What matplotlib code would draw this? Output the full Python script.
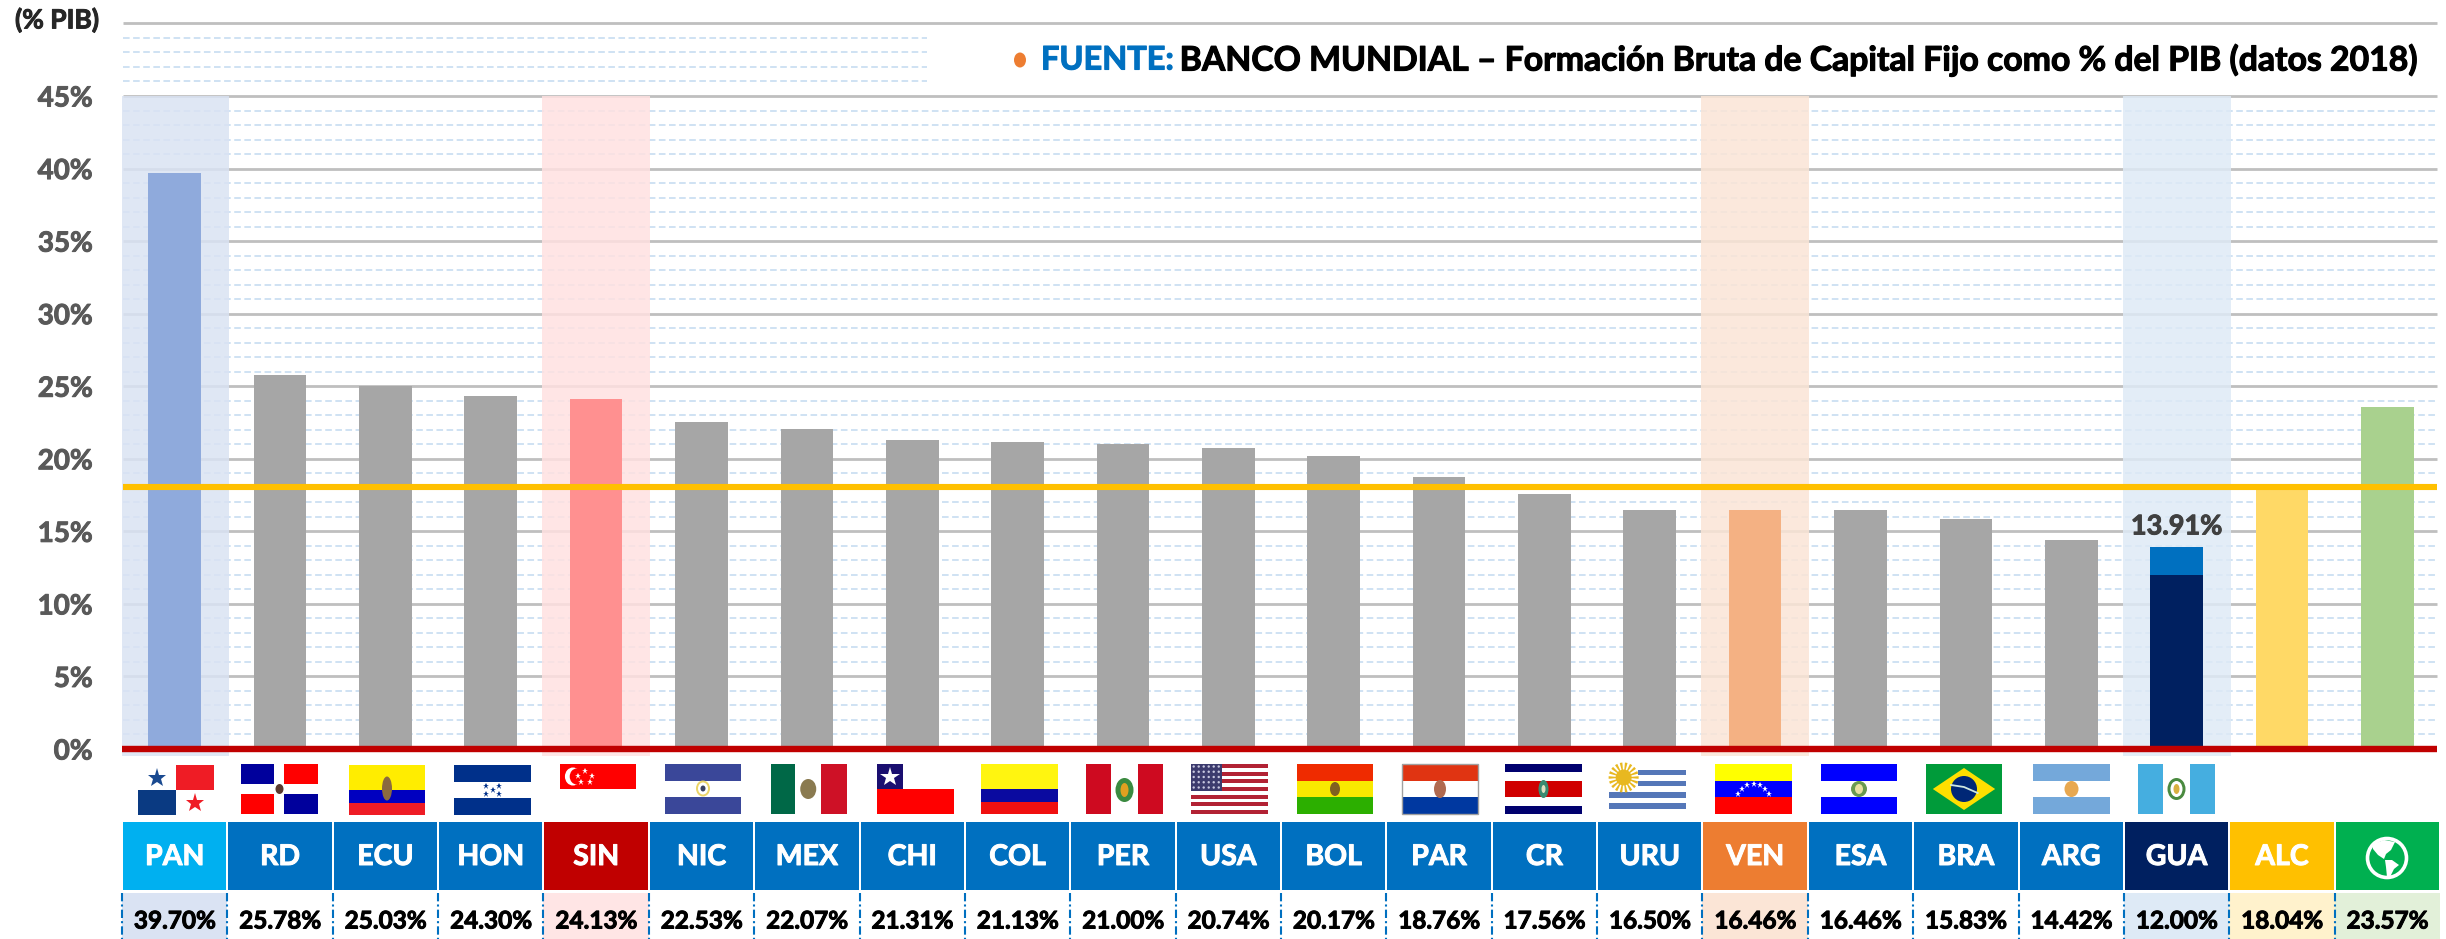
import matplotlib
matplotlib.use("Agg")
import matplotlib.pyplot as plt
import matplotlib.patheffects as pe
from matplotlib.patches import Rectangle, Circle, Polygon, Ellipse, Wedge

plt.rcParams['font.family'] = ['Lato', 'DejaVu Sans']

categorias = ["PAN","RD","ECU","HON","SIN","NIC","MEX","CHI","COL","PER","USA",
              "BOL","PAR","CR","URU","VEN","ESA","BRA","ARG","GUA","ALC",""]
valores = [39.70,25.78,25.03,24.30,24.13,22.53,22.07,21.31,21.13,21.00,20.74,
           20.17,18.76,17.56,16.50,16.46,16.46,15.83,14.42,12.00,18.04,23.57]
etiquetas_valor = ["39.70%","25.78%","25.03%","24.30%","24.13%","22.53%","22.07%",
                   "21.31%","21.13%","21.00%","20.74%","20.17%","18.76%","17.56%",
                   "16.50%","16.46%","16.46%","15.83%","14.42%","12.00%","18.04%","23.57%"]
gua_extra = 1.91
gua_etiqueta = "13.91%"
promedio_alc = 18.04
ticks_mayores = [0,5,10,15,20,25,30,35,40,45,50]
ticks_etiquetas = ["0%","5%","10%","15%","20%","25%","30%","35%","40%","45%",""]

GRIS = "#A6A6A6"
colores_barra = {0:"#8FAADC",4:"#FF9090",15:"#F4B183",19:"#002060",20:"#FFD966",21:"#A9D18E"}
colores_celda = {0:"#00B0F0",4:"#C00000",15:"#ED7D31",19:"#002060",20:"#FFC000",21:"#00B050"}
fondo_valor = {0:"#DAE3F3",4:"#FFE5E5",15:"#FBE5D6",19:"#DEEAF6",20:"#FFF2CC",21:"#E2F0D9"}
bandas = {0:"#DAE3F3",4:"#FFE1E1",15:"#FBE5D6",19:"#DEEAF6"}

W, H = 2446, 939
X0, X1 = 122.0, 2440.0
CELL = (X1 - X0) / 22
PX_PER = (749 - 96) / 45.0
Y_BOTTOM_PX, Y_TOP_PX = 760.0, 20.0

def grueso(c, w=0.7):
    return [pe.withStroke(linewidth=w, foreground=c)]

fig = plt.figure(figsize=(W/100, H/100), dpi=100, facecolor="white")
ax = fig.add_axes([X0/W, 1 - Y_BOTTOM_PX/H, (X1-X0)/W, (Y_BOTTOM_PX-Y_TOP_PX)/H])
ax.set_xlim(-0.5, 21.5)
ax.set_ylim((749-Y_BOTTOM_PX)/PX_PER, (749-Y_TOP_PX)/PX_PER)
for s in ax.spines.values():
    s.set_visible(False)
ax.set_xticks([])
ax.set_yticks(ticks_mayores)
ax.set_yticklabels(ticks_etiquetas, fontsize=20, fontweight="bold", color="#595959",
                   path_effects=grueso("#595959"))
ax.tick_params(axis="y", length=0, pad=21)
ax.patch.set_alpha(0)

xr = 21.47
xs = (927 - X0)/CELL - 0.5
menores = [m for m in range(1, 45) if m % 5]
ax.hlines(menores, -0.49, xr, color="#CFE2F3", lw=1.4, linestyles=(0,(3.4,1.8)), zorder=1)
ax.hlines([46,47,48,49], -0.49, xs, color="#CFE2F3", lw=1.4, linestyles=(0,(3.4,1.8)), zorder=1)
ax.hlines(ticks_mayores[1:], -0.49, xr, color="#BFBFBF", lw=2.0, zorder=1.2)

for i, c in bandas.items():
    ax.bar(i, 45 + 7/PX_PER, bottom=-7/PX_PER, width=1.025, color=c, alpha=0.85, zorder=1.5, lw=0)

x = list(range(len(valores)))
ax.bar(x, valores, width=0.5, color=[colores_barra.get(i, GRIS) for i in x], zorder=3, lw=0)
ax.bar([19], [gua_extra], bottom=[valores[19]], width=0.5, color="#0070C0", zorder=3, lw=0)
ax.hlines([promedio_alc], -0.49, xr, color="#FFC000", lw=4.4, zorder=4)
ax.hlines([0], -0.5, xr, color="#C00000", lw=4.6, zorder=5)
ax.text(19, valores[19]+gua_extra+0.6, gua_etiqueta, ha="center", va="bottom", fontsize=19.5,
        fontweight="bold", color="#404040", zorder=6, path_effects=grueso("#404040"))

# pixel overlay for table, flags and caption
ov = fig.add_axes([0,0,1,1])
ov.set_xlim(0,W); ov.set_ylim(H,0); ov.axis("off"); ov.patch.set_alpha(0)

def R(x0,y0,x1,y1,c,**k):
    ov.add_patch(Rectangle((x0,y0),x1-x0,y1-y0,facecolor=c,edgecolor="none",**k))

ov.text(15, 20, "(% PIB)", fontsize=19, fontweight="bold", color="#262626", va="center", ha="left",
        path_effects=grueso("#262626"))
ov.add_patch(Ellipse((1020,60),12,15,color="#ED7D31",lw=0))
ov.text(1041, 60, "FUENTE:", fontsize=23.4, fontweight="bold", color="#0070C0", va="center", ha="left",
        path_effects=grueso("#0070C0", 0.8))
ov.text(2419, 60, "BANCO MUNDIAL – Formación Bruta de Capital Fijo como % del PIB (datos 2018)",
        fontsize=24.3, fontweight="bold", color="black", va="center", ha="right",
        path_effects=grueso("black", 0.8))

for i in range(22):
    a = X0 + i*CELL; b = a + CELL
    R(a+1, 822, b-1, 890, colores_celda.get(i, "#0070C0"))
    if i in fondo_valor:
        R(a, 893, b, 939, fondo_valor[i])
    if categorias[i]:
        ov.text((a+b)/2, 857, categorias[i], fontsize=20.5, fontweight="bold", color="white", ha="center", va="center",
                path_effects=grueso("white"))
    ov.text((a+b)/2, 921, etiquetas_valor[i], fontsize=17.5, fontweight="bold", color="black", ha="center", va="center",
            path_effects=grueso("black"))
    ov.plot([a,a],[893,939], color="#0070C0", lw=1.5, ls=(0,(4,1.5,1,1.5)))

# globe icon
gx, gy = 2387, 858
ov.add_patch(Circle((gx,gy),19.5,facecolor="#00B050",edgecolor="white",lw=2.6))
ov.add_patch(Polygon([(gx-14,gy-14),(gx-3,gy-18),(gx+8,gy-16),(gx+4,gy-8),(gx-1,gy-4),(gx-3,gy+1),(gx-9,gy-3),(gx-14,gy-9)],color="white",lw=0))
ov.add_patch(Polygon([(gx-2,gy+2),(gx+5,gy+2),(gx+12,gy+7),(gx+7,gy+11),(gx+3,gy+19),(gx,gy+19),(gx-1,gy+9)],color="white",lw=0))

class F:
    def __init__(s,x0,x1,y0=764,y1=814):
        s.x0,s.x1,s.y0,s.y1=x0,x1,y0,y1
    def px(s,u,v):
        return s.x0+u*(s.x1-s.x0), s.y0+v*(s.y1-s.y0)
    def r(s,u0,v0,u1,v1,c):
        a=s.px(u0,v0); b=s.px(u1,v1); R(a[0],a[1],b[0],b[1],c)
    def bands(s,cols,fr=None):
        n=len(cols); fr=fr or [1/n]*n; v=0
        for c,f in zip(cols,fr):
            s.r(0,v,1,v+f,c); v+=f
    def star(s,u,v,c,ms=11):
        a=s.px(u,v); ov.plot([a[0]],[a[1]],marker="*",color=c,ms=ms,mew=0)
    def dot(s,u,v,c,rad=4,ry=None):
        a=s.px(u,v); ov.add_patch(Ellipse(a,2*rad,2*(ry or rad),color=c,lw=0))
    def frame(s,c):
        a=s.px(0,0); b=s.px(1,1)
        ov.add_patch(Rectangle(a,b[0]-a[0],b[1]-a[1],fill=False,edgecolor=c,lw=1))

f=F(138,214,765,815)
f.r(.5,0,1,.5,"#EF1C25"); f.r(0,.5,.5,1,"#0A3A82"); f.star(.25,.25,"#1A4A90",14); f.star(.75,.75,"#EF1C25",14)
f=F(241,318)
f.r(0,0,.43,.4,"#00009C"); f.r(.56,0,1,.4,"#FF0000"); f.r(0,.6,.43,1,"#FF0000"); f.r(.56,.6,1,1,"#00009C"); f.dot(.5,.5,"#5A3A30",4,5)
f=F(349,425,765,815)
f.bands(["#FFED00","#0000C0","#EE1C25"],[.5,.25,.25]); f.dot(.5,.47,"#8A6A40",5,12)
f=F(454,531,765,815)
f.bands(["#00308A","white","#00308A"])
for u,v in [(.42,.42),(.58,.42),(.5,.5),(.42,.58),(.58,.58)]: f.star(u,v,"#00308A",5)
f=F(560,636,764,814)
f.r(0,0,1,.5,"#FF0000"); f.r(0,0,.006,1,"#808080")
f.dot(.17,.25,"white",8,9); f.dot(.22,.25,"#FF0000",7,8)
for u,v in [(.33,.14),(.42,.23),(.39,.35),(.27,.35),(.24,.23)]: f.star(u,v,"white",4.5)
f=F(665,741)
f.bands(["#3A4799","white","#3A4799"]); f.dot(.5,.49,"#EBD468",7,8); f.dot(.5,.49,"white",5,6); f.dot(.5,.49,"#3A4060",2.5,3)
f=F(771,847)
f.bands(["#006847"]) ; f.r(.32,0,.66,1,"white"); f.r(.66,0,1,1,"#CE1126"); f.dot(.49,.5,"#8A7A50",8,10)
f=F(877,954)
f.r(0,.5,1,1,"#FF0000"); f.r(0,0,.34,.5,"#1A0F70"); f.star(.17,.25,"white",15)
f=F(981,1058)
f.bands(["#FFF510","#0A0AA0","#F01010"],[.5,.25,.25])
f=F(1086,1163)
f.r(0,0,.33,1,"#CE0A20"); f.r(.67,0,1,1,"#CE0A20"); f.r(.33,0,.67,1,"white"); f.dot(.5,.52,"#3A8A40",9,12); f.dot(.5,.52,"#E0A020",4,7)
f=F(1191,1268)
cols=["#B22234" if k%2==0 else "white" for k in range(13)]
f.bands(cols); f.r(0,0,.4,7/13,"#3C3B6E")
for a_ in range(6):
    for b_ in range(5):
        f.dot(.035+a_*.065,.05+b_*.105,"#C8C8E0",1.2)
f=F(1297,1373)
f.bands(["#EF2B00","#F9E900","#2CAF00"]); f.dot(.5,.5,"#806020",5,7)
f=F(1402,1478)
f.bands(["#E03412","white","#0038A0"]); f.dot(.5,.5,"#B06A50",6,9); f.frame("#A0A0A0")
f=F(1505,1582)
f.bands(["#00006E","white","#D00000","white","#00006E"],[1/6,1/6,2/6,1/6,1/6]); f.dot(.5,.5,"#3A8A70",5,9); f.dot(.5,.5,"#E0E0C0",2,4)
f=F(1609,1686)
for v0,u0 in ((.11,.38),(.33,.38),(.56,0),(.78,0)):
    f.r(u0,v0,1,v0+.115,"#5577B8")
for ang in range(0,360,20):
    ov.add_patch(Wedge(f.px(.19,.27),15,ang-5,ang+5,color="#E8B820",lw=0))
f.dot(.19,.27,"#E8B820",8)
f=F(1715,1792)
f.bands(["#FFFF00","#0000FF","#FF0000"])
for u,v in [(.3,.6),(.35,.5),(.42,.42),(.5,.39),(.58,.42),(.65,.5),(.7,.6)]: f.star(u,v,"white",5)
f=F(1821,1897)
f.bands(["#0000FF","white","#0000FF"]); f.dot(.5,.5,"#6A9A50",8,8); f.dot(.5,.5,"#E8E0A0",4,5)
f=F(1926,2002)
f.bands(["#009B3A"])
a=[f.px(*p) for p in [(.09,.5),(.5,.08),(.91,.5),(.5,.92)]]
ov.add_patch(Polygon(a,color="#FEDF00",lw=0)); f.dot(.5,.5,"#002776",13,13)
ov.plot(*zip(*[f.px(.33,.42),f.px(.5,.46),f.px(.68,.58)]),color="#D0E8E0",lw=1.3)
f=F(2033,2110)
f.bands(["#74A8DA","white","#74A8DA"]); f.dot(.5,.5,"#E8A850",7,8)
f=F(2138,2215)
f.r(0,0,.33,1,"#45AEE0"); f.r(.67,0,1,1,"#45AEE0"); f.dot(.5,.5,"#4A8A40",9,11); f.dot(.5,.5,"white",6,8); f.dot(.5,.5,"#D8B040",3,5)

fig.savefig("out.png", dpi=100, facecolor="white")
